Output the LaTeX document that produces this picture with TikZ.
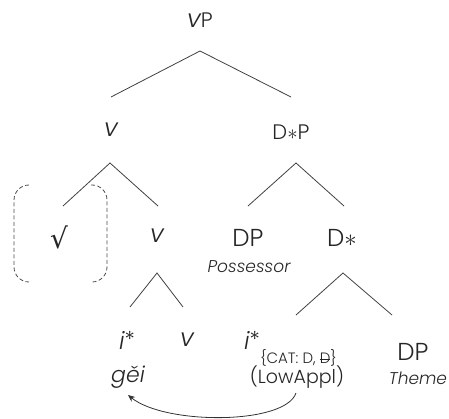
\documentclass[tikz,border=0pt]{standalone}
\usepackage{fontspec}
\setmainfont{Poppins}[UprightFont={* Light},ItalicFont={* Light Italic}]
\newfontfamily\symfont{DejaVu Sans}
\usetikzlibrary{arrows.meta}

% a capital D struck through at mid height
\newsavebox\struckbox
\newcommand\struckD{\sbox\struckbox{D}\rlap{\rule[0.42\ht\struckbox]{\wd\struckbox}{0.6pt}}D}
% little v set as tall as the capitals
\newcommand\bigv{{\fontsize{25}{27}\selectfont\itshape v}}
% head label i*
\newcommand\headi{{\fontsize{24}{26}\selectfont\itshape i}\raisebox{1.5pt}{\fontsize{22}{24}\selectfont*}}

\begin{document}
\begin{tikzpicture}[x=1pt,y=-1pt,
  lab/.style={inner sep=0pt, text=black!85},
  big/.style={lab, font=\fontsize{24.5}{27}\selectfont},
  mid/.style={lab, font=\fontsize{21}{24}\selectfont},
  sub/.style={lab, font=\fontsize{15}{17}\selectfont},
  gloss/.style={lab, font=\fontsize{17}{19}\selectfont\itshape},
  branch/.style={draw=black!75, line width=0.8pt},
  bracket/.style={draw=black!70, line width=0.8pt, dash pattern=on 4pt off 2.5pt, rounded corners=15pt},
  ]
\path[use as bounding box] (0,0) rectangle (449,419);

% labels
\node[mid] (vP) at (200,20) {\bigv P};
\node[lab] (v1) at (111,130) {\bigv};
\node[mid] (DsP) at (291,132) {D\(\ast\)P};
\node[lab, font=\fontsize{28}{30}\selectfont] (root) at (59,237) {\symfont √};
\node[lab] (v2) at (157,236) {\bigv};
\node[big] (DP1) at (248,238) {DP};
\node[gloss] (poss) at (249,267) {Possessor};
\node[big] (Ds) at (342,238) {D\(\ast\)};
\node[lab] (i1) at (127,340) {\headi};
\node[lab] (v3) at (187,340) {\bigv};
\node[lab, font=\fontsize{22}{24}\selectfont\itshape] (gei) at (128,377) {gěi};
\node[lab] (i2) at (252,340) {\headi};
\node[sub, anchor=west] (feat) at (i2.east |- 0,358) {\{CAT: D, \struckD\}};
\node[lab, font=\fontsize{19}{21}\selectfont] (low) at (297,377) {(LowAppl)};
\node[big] (DP2) at (413,352) {DP};
\node[gloss] (theme) at (418,378) {Theme};

% branch points
\coordinate (a1) at (200,51);  \coordinate (l1) at (111,97);  \coordinate (r1) at (291,97);
\coordinate (a2) at (110,163); \coordinate (l2) at (63,206);  \coordinate (r2) at (158,206);
\coordinate (a3) at (296,163); \coordinate (l3) at (248,206); \coordinate (r3) at (344,206);
\coordinate (a4) at (157,273); \coordinate (l4) at (130,307); \coordinate (r4) at (183,307);
\coordinate (a5) at (343,273); \coordinate (l5) at (296,315); \coordinate (r5) at (392,315);

\draw[branch] (l1) -- (a1) -- (r1);
\draw[branch] (l2) -- (a2) -- (r2);
\draw[branch] (l3) -- (a3) -- (r3);
\draw[branch] (l4) -- (a4) -- (r4);
\draw[branch] (l5) -- (a5) -- (r5);

% dashed brackets round the root
\draw[bracket] (29,185) -- (14,185) -- (14,282) -- (29,282);
\draw[bracket] (91,185) -- (107,185) -- (107,282) -- (91,282);

% head movement arrow
\coordinate (mvfrom) at (296,393);
\coordinate (mvto) at (128,395);
\draw[draw=black!80, line width=0.8pt, -{Stealth[length=7pt,width=6pt]}]
  (mvfrom) .. controls (285,425) and (165,425) .. (mvto);
\end{tikzpicture}
\end{document}
